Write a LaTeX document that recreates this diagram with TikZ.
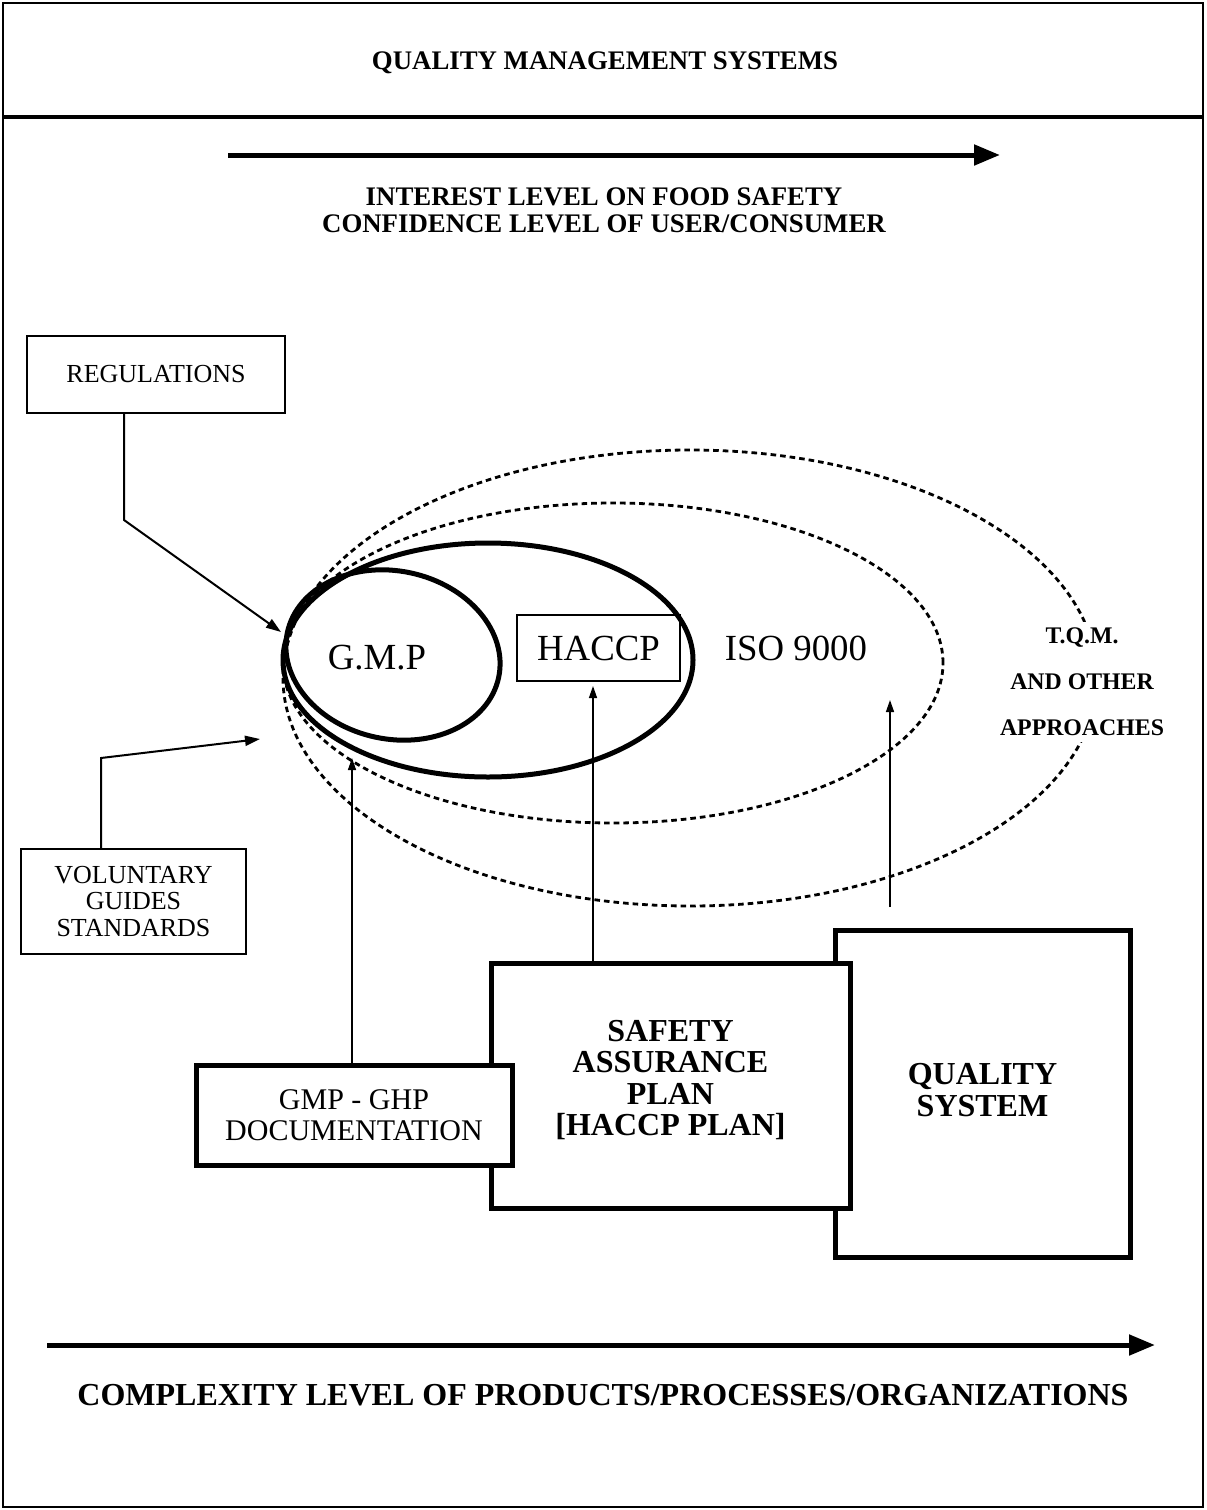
\documentclass[tikz,border=0pt]{standalone}
\usepackage{fontspec}
\setmainfont{Liberation Serif}
\usetikzlibrary{arrows.meta,shapes.geometric}

\tikzset{every picture/.style={line width=0.75pt}}

\begin{document}
\begin{tikzpicture}[x=0.5pt,y=0.5pt,yscale=-1,xscale=1,
  heading/.style={font=\fontsize{13.4}{13.5}\selectfont\bfseries, align=center, inner sep=0pt},
  bigarrow/.style={line width=2.5pt, -{Triangle[length=13pt,width=10pt]}},
  linkarrow/.style={line width=1pt, -{Triangle[length=7.5pt,width=5pt]}},
  uparrow/.style={line width=0.7pt, -{Triangle[length=6pt,width=4pt]}},
  thinbox/.style={draw, line width=1pt, font=\fontsize{13}{13.25}\selectfont, align=center, inner sep=0pt},
  heavybox/.style={draw, fill=white, line width=2.5pt, align=center, inner sep=0pt},
  ring/.style={draw, ellipse, line width=2.5pt, inner sep=0pt},
  dashring/.style={draw, ellipse, line width=1.4pt, dash pattern=on 2.8pt off 2pt, inner sep=0pt},
  bigword/.style={font=\fontsize{18.4}{18.4}\selectfont, inner sep=0pt}]
\useasboundingbox (0,0) rectangle (1206,1510);

%Shape: Frame
\draw[line width=1.2pt] (3,3) rectangle (1203,1507);
\draw[line width=2pt] (3,117) -- (1203,117);

% Text Node
\node[heading] (qms) at (605,63) {QUALITY MANAGEMENT SYSTEMS};

%Straight Lines: interest axis
\coordinate (interestL) at (228,155);
\coordinate (interestR) at (1000,155);
\draw[bigarrow] (interestL) -- (interestR);
% Text Node
\node[heading] (interest) at (604,210) {INTEREST LEVEL ON FOOD SAFETY\\CONFIDENCE LEVEL OF USER/CONSUMER};

%Shape: Rectangle
\node[thinbox, minimum width=129pt, minimum height=38.5pt] (regs) at (156,374.5) {REGULATIONS};
\coordinate (regbend) at (124,520);
\coordinate (regtip) at (281,632);
\draw[linkarrow] (regs.south -| regbend) -- (regbend) -- (regtip);

%Shape: Rectangle
\node[thinbox, minimum width=112.5pt, minimum height=52.5pt] (vgs) at (133.5,901.5) {VOLUNTARY\\GUIDES\\STANDARDS};
\coordinate (volbend) at (101,758);
\coordinate (voltip) at (260,739);
\draw[linkarrow] (vgs.north -| volbend) -- (volbend) -- (voltip);

%Shape: Ellipses
\node[dashring, minimum width=407pt, minimum height=228pt] (tqmring) at (690,678) {};
\node[dashring, minimum width=330pt, minimum height=160pt] (isoring) at (613,663) {};
\node[ring, minimum width=205pt, minimum height=117pt] (haccpring) at (488,660) {};
\node[ring, minimum width=108pt, minimum height=84pt, rotate=-12] (gmpring) at (393,655) {};

% Text Node
\node[bigword] (gmp) at (377,658) {G.M.P};
\node[bigword, draw, line width=1pt, minimum width=81.5pt, minimum height=33pt] (haccp) at (598.5,648) {HACCP};
\node[bigword] (iso) at (796,648) {ISO 9000};
\node[font=\fontsize{11.9}{23}\selectfont\bfseries, align=center, fill=white, inner sep=3pt] (tqm) at (1082,682) {T.Q.M.\\AND OTHER\\APPROACHES};

%Shape: Boxes
\node[heavybox, minimum width=147.5pt, minimum height=163.5pt, font=\fontsize{16}{16}\selectfont\bfseries] (qsys) at (982.5,1093.5) {QUALITY\\SYSTEM\\[-12pt]};
\node[heavybox, minimum width=179.5pt, minimum height=122.5pt, font=\fontsize{16}{15.75}\selectfont\bfseries] (sap) at (670.5,1085.5) {SAFETY\\ASSURANCE\\PLAN\\{[HACCP PLAN]}\\[-8pt]};
\node[heavybox, minimum width=158pt, minimum height=50pt, font=\fontsize{15}{15.5}\selectfont] (gmpdoc) at (354,1115) {GMP - GHP\\DOCUMENTATION};

%Straight Lines: feeds
\coordinate (gmptip) at (352,758);
\draw[uparrow] (gmpdoc.north -| gmptip) -- (gmptip);
\coordinate (haccptip) at (593,686);
\draw[uparrow] (sap.north -| haccptip) -- (haccptip);
\coordinate (isofoot) at (890,907);
\coordinate (isotip) at (890,700);
\draw[uparrow] (isofoot) -- (isotip);

%Straight Lines: complexity axis
\coordinate (complexL) at (47,1345);
\coordinate (complexR) at (1155,1345);
\draw[bigarrow] (complexL) -- (complexR);
% Text Node
\node[font=\fontsize{16}{16}\selectfont\bfseries, inner sep=0pt] (complexity) at (603,1395) {COMPLEXITY LEVEL OF PRODUCTS/PROCESSES/ORGANIZATIONS};

\end{tikzpicture}
\end{document}
